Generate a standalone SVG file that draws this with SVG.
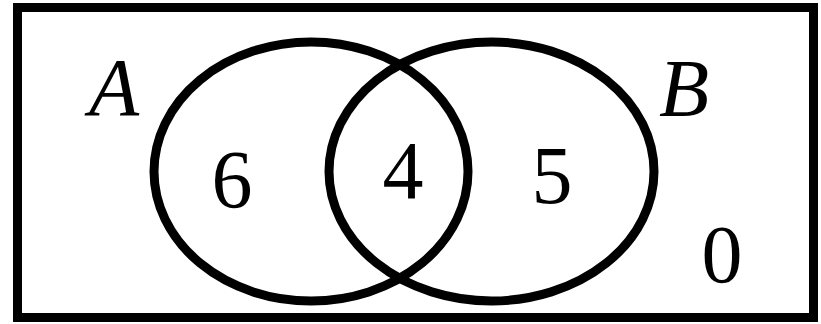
<svg xmlns="http://www.w3.org/2000/svg" width="821" height="324" viewBox="0 0 821 324">
<style>
.line{fill:none;stroke:#000;stroke-width:9}
.t{font-family:"Liberation Serif","DejaVu Serif",serif;font-size:82px;fill:#000;text-anchor:middle}
.i{font-style:italic}
</style>
<rect x="0" y="0" width="821" height="324" fill="#fff"/>
<g id="frame"><rect class="line" x="17.5" y="7.5" width="796" height="310"/></g>
<g id="setA">
<ellipse class="line" cx="311" cy="171.5" rx="157" ry="129.5"/>
<text class="t i" x="114" y="115">A</text>
</g>
<g id="setB">
<ellipse class="line" cx="491.5" cy="171.5" rx="162.5" ry="129.5"/>
<text class="t i" x="684" y="116">B</text>
</g>
<g id="labels">
<text class="t" x="232" y="207">6</text>
<text class="t" x="403" y="198">4</text>
<text class="t" x="552" y="203">5</text>
<text class="t" x="722" y="282">0</text>
</g>
</svg>
